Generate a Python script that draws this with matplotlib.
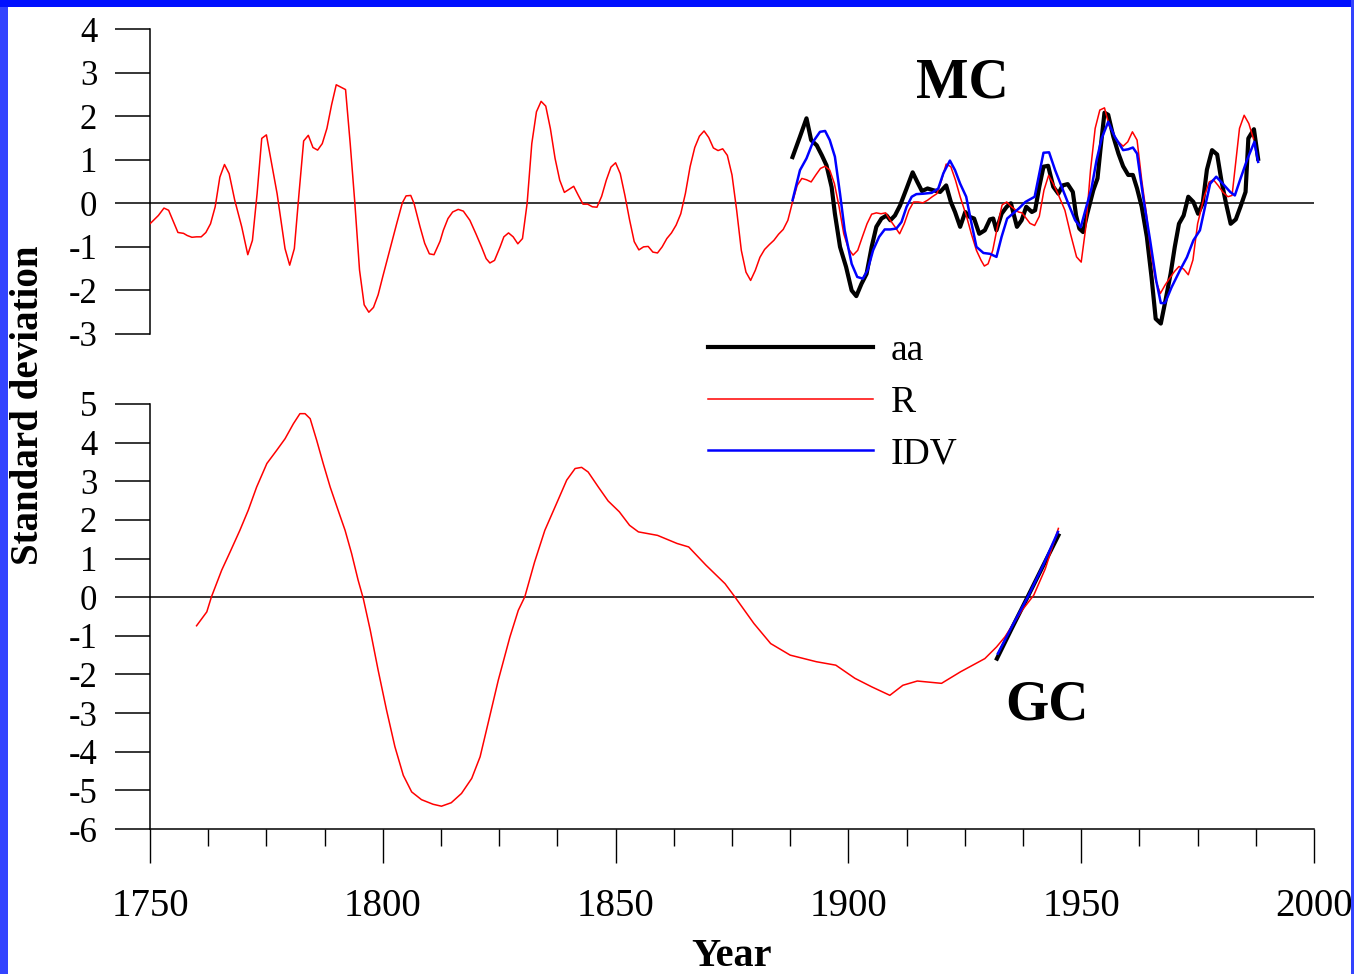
import matplotlib
matplotlib.use("Agg")
import matplotlib.pyplot as plt
from matplotlib.patches import Rectangle
import numpy as np

plt.rcParams['font.family'] = ['Liberation Serif', 'DejaVu Serif']

# MC panel, R series
r_mc_years = [1750, 1751.8, 1753, 1754, 1756, 1757.2, 1758, 1759, 1760, 1761, 1762, 1763, 1764, 1765, 1766, 1767,
              1768.2, 1769.7, 1771, 1772, 1773, 1774, 1775, 1776, 1777.3, 1779, 1780, 1781, 1782, 1783, 1784, 1785,
              1786, 1787, 1788, 1789, 1790, 1792, 1793, 1794, 1795, 1796, 1797, 1798, 1799, 1800, 1801.5, 1803,
              1804.2, 1805, 1806, 1806.7, 1808, 1809, 1810, 1811, 1812.3, 1813, 1814, 1815, 1816.2, 1817.3, 1818.7,
              1820, 1821.2, 1822.2, 1823, 1824, 1825.2, 1826, 1827, 1828, 1829, 1830, 1831, 1832, 1833, 1834, 1835,
              1836, 1837, 1838, 1839, 1840, 1841, 1842, 1843, 1844, 1845, 1846, 1847, 1848, 1849, 1850, 1851, 1852,
              1853, 1854, 1855, 1856, 1857, 1858, 1859, 1860, 1861, 1862, 1863, 1864, 1865, 1866, 1867, 1868, 1869,
              1870, 1871, 1872, 1873, 1874, 1875, 1876, 1877, 1878, 1879, 1880, 1881, 1882, 1883, 1884, 1885, 1886,
              1887, 1888, 1889, 1890, 1891, 1892, 1893, 1894, 1895, 1896, 1897, 1898, 1899, 1900, 1901, 1902, 1903,
              1904, 1905, 1906, 1907, 1908, 1909, 1910, 1911, 1912, 1913, 1914, 1915, 1916, 1917, 1918, 1919, 1920,
              1921, 1922, 1923, 1924, 1925.4, 1926.4, 1927.5, 1928.5, 1929.2, 1930, 1931, 1932, 1933, 1934, 1935,
              1936.5, 1937.3, 1939, 1940, 1941, 1942, 1943, 1944, 1945, 1946.5, 1947.7, 1949, 1950, 1951, 1952, 1953,
              1954, 1955, 1956, 1957.6, 1959, 1960, 1961, 1962, 1963, 1964, 1965, 1966, 1967, 1968, 1969, 1970, 1971,
              1972, 1973, 1974, 1975, 1976.4, 1977.5, 1978.4, 1979.4, 1980.4, 1981.5, 1982.4, 1983, 1984, 1985, 1986,
              1987]
r_mc_vals = [-0.47, -0.28, -0.11, -0.16, -0.67, -0.69, -0.74, -0.78, -0.77, -0.77, -0.67, -0.47, -0.08, 0.6, 0.89, 0.68,
             0.07, -0.54, -1.18, -0.85, 0.22, 1.49, 1.57, 0.98, 0.22, -1.04, -1.42, -1.04, 0.22, 1.43, 1.56, 1.28,
             1.22, 1.37, 1.72, 2.26, 2.72, 2.61, 1.37, 0.0, -1.53, -2.33, -2.5, -2.39, -2.1, -1.68, -1.07, -0.46,
             0.01, 0.17, 0.18, 0.0, -0.54, -0.92, -1.16, -1.18, -0.87, -0.62, -0.35, -0.2, -0.14, -0.18, -0.39,
             -0.7, -1.0, -1.27, -1.37, -1.31, -1.0, -0.77, -0.68, -0.77, -0.93, -0.81, 0.0, 1.37, 2.1, 2.34, 2.23,
             1.71, 1.03, 0.53, 0.25, 0.32, 0.39, 0.18, -0.02, -0.02, -0.08, -0.09, 0.16, 0.53, 0.83, 0.93, 0.68, 0.18,
             -0.38, -0.88, -1.07, -1.0, -0.99, -1.12, -1.14, -1.0, -0.81, -0.68, -0.5, -0.24, 0.23, 0.84, 1.28, 1.54, 1.66,
             1.51, 1.27, 1.21, 1.25, 1.1, 0.65, -0.16, -1.08, -1.58, -1.77, -1.54, -1.24, -1.06, -0.95, -0.85, -0.71, -0.6,
             -0.39, 0.03, 0.41, 0.57, 0.54, 0.49, 0.65, 0.8, 0.85, 0.76, 0.45, -0.08, -0.7, -1.04, -1.19, -1.08, -0.77,
             -0.47, -0.25, -0.22, -0.24, -0.22, -0.39, -0.54, -0.7, -0.47, -0.16, 0.03, 0.03, 0.01, 0.07, 0.15, 0.22, 0.53,
             0.9, 0.84, 0.53, 0.15, -0.31, -0.7, -1.08, -1.31, -1.44, -1.39, -1.08, -0.54, -0.04, 0.03, -0.08,
             -0.2, -0.22, -0.46, -0.51, -0.3, 0.3, 0.64, 0.45, 0.22, -0.16, -0.7, -1.23, -1.35, -0.54, 0.76, 1.72,
             2.14, 2.19, 1.79, 1.45, 1.31, 1.41, 1.64, 1.45, 0.53, -0.24, -1.16, -1.77, -2.07, -1.88, -1.72, -1.57, -1.45,
             -1.51, -1.64, -1.3, -0.47, 0.15, 0.49, 0.54, 0.41, 0.26, 0.15, 0.18, 0.76, 1.72, 2.02, 1.83,
             1.48]

# MC panel, aa series
aa_mc_years = [1888, 1889.6, 1891, 1892, 1893.2, 1894.3, 1895.3, 1896.4, 1897.1, 1898.2, 1899.5, 1900.7, 1901.7,
               1902.8, 1903.9, 1905, 1906, 1907.1, 1908.2, 1909, 1910, 1911.1, 1912.5, 1913.8, 1914.8, 1915.8, 1917,
               1918.2, 1919.7, 1921, 1922, 1922.9, 1924, 1925.1, 1926, 1927, 1928.1, 1929.3, 1930.4, 1931.1, 1931.8,
               1932.9, 1934, 1934.9, 1936.2, 1937.2, 1938.2, 1939.4, 1940.1, 1941, 1941.9, 1942.9, 1944, 1945.1, 1946,
               1947.1, 1948.2, 1948.9, 1949.6, 1950.4, 1951.3, 1952.6, 1953.5, 1954.2, 1955, 1955.8, 1956.9, 1958,
               1959, 1960.1, 1961.1, 1962, 1963, 1964.1, 1965.1, 1966, 1967.1, 1968.1, 1969.2, 1970.1, 1971, 1972,
               1973, 1974.1, 1975.1, 1976.1, 1977, 1978.1, 1979.2, 1980.1, 1981.1, 1982.1, 1983.2, 1984.2, 1985.3,
               1985.9, 1987.1, 1988]
aa_mc_vals = [1.06, 1.53, 1.95, 1.45, 1.33, 1.1, 0.87, 0.37, -0.24, -1.0, -1.46, -2.0, -2.13,
              -1.85, -1.62, -1.0, -0.54, -0.35, -0.28, -0.39, -0.28, -0.05, 0.34, 0.71, 0.49, 0.28, 0.34,
              0.3, 0.26, 0.41, 0.03, -0.2, -0.54, -0.2, -0.31, -0.35, -0.7, -0.62, -0.37, -0.35, -0.62,
              -0.24, -0.08, 0.0, -0.54, -0.39, -0.08, -0.2, -0.16, 0.38, 0.84, 0.86, 0.38, 0.22, 0.41,
              0.44, 0.26, -0.28, -0.58, -0.66, -0.24, 0.3, 0.57, 1.3, 2.08, 2.03, 1.53, 1.14,
              0.85, 0.65, 0.65, 0.34, -0.08, -0.77, -1.69, -2.65, -2.76, -2.23, -1.62, -1.0, -0.47, -0.28,
              0.15, 0.03, -0.24, 0.0, 0.77, 1.22, 1.12, 0.53, 0.0, -0.47, -0.37, -0.08, 0.26,
              1.49, 1.7, 1.02]

# MC panel, IDV series
idv_mc_years = [1888, 1889.6, 1891, 1892.4, 1893.9, 1895, 1896, 1897.1, 1898.2, 1899.2, 1900.7, 1901.9, 1903.1,
                1904.1, 1905.3, 1906.6, 1907.8, 1909, 1910.3, 1911.4, 1912.5, 1913.6, 1914.6, 1916.1, 1917.9, 1919.3,
                1920.4, 1921.8, 1922.9, 1924, 1925.3, 1926.3, 1927.5, 1929, 1930.4, 1931.8, 1932.9, 1934.1, 1936.6,
                1938, 1940, 1941.9, 1943.1, 1944.4, 1945.8, 1947.2, 1948.7, 1949.9, 1951, 1952.2, 1953.3, 1954.4,
                1955.8, 1957.2, 1959, 1960.1, 1961.1, 1962, 1963.3, 1964.8, 1966.1, 1967.1, 1968, 1969.4, 1971.2,
                1972.7, 1974.1, 1975.5, 1976.6, 1977.7, 1979, 1980.4, 1982, 1983, 1984.1, 1985.6, 1987.2, 1988]
idv_mc_vals = [0.07, 0.76, 1.03, 1.41, 1.64, 1.66, 1.45, 1.07, 0.22, -0.62, -1.39, -1.69, -1.73,
               -1.54, -1.08, -0.77, -0.6, -0.6, -0.58, -0.43, -0.08, 0.15, 0.21, 0.22, 0.24, 0.34,
               0.69, 0.98, 0.76, 0.45, 0.15, -0.39, -1.0, -1.14, -1.16, -1.23, -0.77, -0.35, -0.12,
               0.03, 0.15, 1.16, 1.17, 0.76, 0.38, 0.0, -0.39, -0.55, -0.12, 0.34, 0.99, 1.49,
               1.87, 1.53, 1.22, 1.24, 1.28, 1.14, 0.15, -0.85, -1.77, -2.29, -2.29, -1.93, -1.54,
               -1.24, -0.85, -0.62, -0.08, 0.45, 0.61, 0.45, 0.26, 0.18, 0.53, 0.99, 1.41, 0.95]

# GC panel
r_gc_years = [1760, 1762.2, 1763.2, 1765.4, 1767.2, 1769.3, 1771.1, 1772.9, 1775.1, 1777.2, 1779, 1780.8, 1782.2,
              1783.3, 1784.4, 1785.8, 1787.2, 1788.7, 1790.4, 1791.9, 1793.3, 1794.7, 1795.8, 1797.3, 1799, 1800.8,
              1802.6, 1804.4, 1806.2, 1808.3, 1810.8, 1812.6, 1814.7, 1816.9, 1819.1, 1820.9, 1822.6, 1824.8,
              1827.3, 1829.1, 1830.5, 1832.6, 1834.8, 1837.3, 1839.5, 1841.3, 1842.7, 1844.1, 1846.3, 1848.4,
              1850.8, 1853, 1854.9, 1859, 1863.2, 1865.7, 1869.4, 1873.5, 1875.6, 1879.7, 1883.3, 1887.5, 1893.1,
              1897.3, 1901.4, 1905, 1908.9, 1911.7, 1914.8, 1920, 1924.1, 1929.3, 1931.8, 1933.6, 1937.3, 1939.8,
              1942.3, 1945.1]
r_gc_vals = [-0.74, -0.38, 0.01, 0.7, 1.17, 1.73, 2.25, 2.85, 3.46, 3.8, 4.1, 4.49, 4.75,
             4.75, 4.62, 4.06, 3.46, 2.85, 2.25, 1.73, 1.13, 0.44, -0.03, -0.85, -1.89, -2.92,
             -3.87, -4.61, -5.04, -5.24, -5.36, -5.41, -5.32, -5.08, -4.69, -4.13, -3.27, -2.15,
             -1.03, -0.34, 0.01, 0.91, 1.73, 2.42, 3.03, 3.33, 3.36, 3.24, 2.85, 2.49,
             2.21, 1.86, 1.69, 1.6, 1.39, 1.3, 0.83, 0.35, 0.01, -0.68, -1.2, -1.5, -1.67,
             -1.76, -2.1, -2.32, -2.54, -2.28, -2.17, -2.23, -1.93, -1.59, -1.29, -1.03, -0.34, 0.05,
             0.74, 1.78]
aa_gc_years = [1931.9, 1935, 1938.3, 1941.6, 1945.1]
aa_gc_vals = [-1.59, -0.83, -0.04, 0.76, 1.6]
idv_gc_years = [1932.1, 1935.3, 1938.5, 1941.8, 1945]
idv_gc_vals = [-1.46, -0.72, 0.0, 0.82, 1.69]

W, H = 1354, 974
fig = plt.figure(figsize=(W/100, H/100), dpi=100)
fig.patch.set_facecolor('white')

# blue frame
fig.add_artist(Rectangle((0, 0), 8/W, 1, transform=fig.transFigure, color='#3344ff', lw=0))
fig.add_artist(Rectangle((0, 1-7/H), 1, 7/H, transform=fig.transFigure, color='#0010ff', lw=0))
fig.add_artist(Rectangle((1-3/W, 0), 3/W, 1, transform=fig.transFigure, color='#3344ff', lw=0))

left = 150/W
width = (1314-150)/W
ax1 = fig.add_axes([left, 1-334/H, width, (334-29)/H])
ax2 = fig.add_axes([left, 1-829/H, width, (829-404)/H])

for ax in (ax1, ax2):
    ax.set_xlim(1750, 2000)
    ax.axhline(0, color='black', lw=1.1, zorder=1)
    ax.spines['top'].set_visible(False)
    ax.spines['right'].set_visible(False)
    ax.spines['left'].set_linewidth(1.1)
    ax.spines['bottom'].set_linewidth(1.1)
    ax.tick_params(axis='y', direction='out', length=25, width=1.1, pad=13, labelsize=25)

ax1.set_ylim(-3, 4)
ax1.set_yticks(np.arange(-3, 5))
ax1.set_yticklabels([str(v) for v in range(-3, 5)])
ax1.spines['bottom'].set_visible(False)
ax1.set_xticks([])

l_aa, = ax1.plot(aa_mc_years, aa_mc_vals, color='black', lw=3, zorder=3)
l_r, = ax1.plot(r_mc_years, r_mc_vals, color='red', lw=1.1, zorder=4)
l_idv, = ax1.plot(idv_mc_years, idv_mc_vals, color='blue', lw=1.8, zorder=5)

ax2.set_ylim(-6, 5)
ax2.set_yticks(np.arange(-6, 6))
ax2.set_yticklabels([str(v) for v in range(-6, 6)])
ax2.set_xticks(np.arange(1750, 2001, 50))
ax2.set_xticks(np.arange(1750, 2001, 12.5), minor=True)
ax2.tick_params(axis='x', which='major', direction='out', length=24.5, width=1.0, pad=18, labelsize=28)
ax2.tick_params(axis='x', which='minor', direction='out', length=12.2, width=1.0)

ax2.plot(r_gc_years, r_gc_vals, color='red', lw=1.1, zorder=4)
ax2.plot(aa_gc_years, aa_gc_vals, color='black', lw=3, zorder=3)
ax2.plot(idv_gc_years, idv_gc_vals, color='blue', lw=1.8, zorder=5)

fig.text(962/W, 1-97/H, 'MC', fontsize=40, fontweight='bold', ha='center', va='baseline')
fig.text(1047/W, 1-720/H, 'GC', fontsize=40, fontweight='bold', ha='center', va='baseline')
fig.text(731/W, 1-966/H, 'Year', fontsize=29, fontweight='bold', ha='center', va='baseline')
fig.text(29/W, 1-405/H, 'Standard deviation', fontsize=28, fontweight='bold', rotation=90,
         ha='center', va='center')

fig.legend([l_aa, l_r, l_idv], ['aa', 'R', 'IDV'], loc='upper left', bbox_to_anchor=(708/W, 1-334/H),
           frameon=False, fontsize=27, handlelength=4.4, handletextpad=0.48, labelspacing=0.45,
           borderpad=0, borderaxespad=0)

fig.savefig('out.png', dpi=100)
